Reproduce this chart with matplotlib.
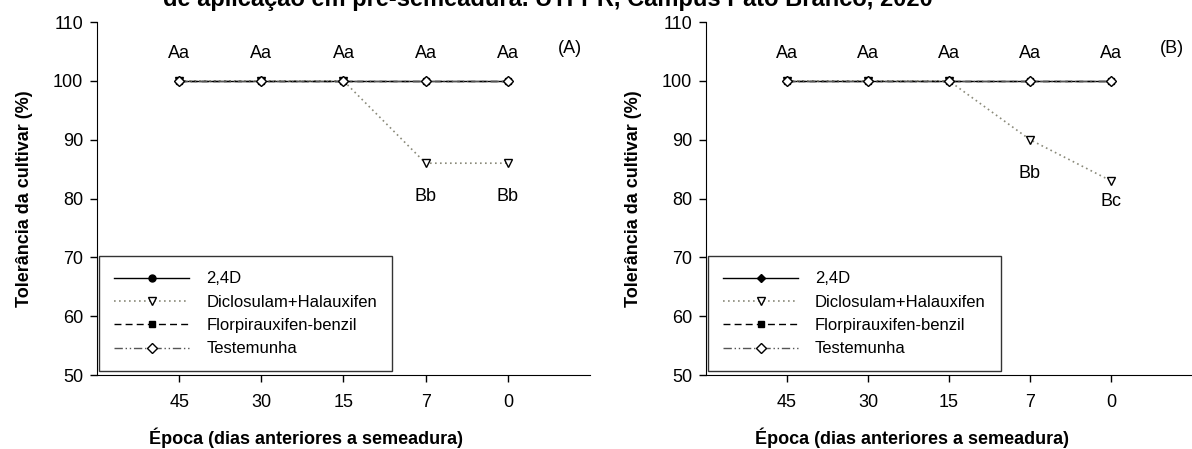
import matplotlib
matplotlib.use("Agg")
import matplotlib.pyplot as plt

plt.rcParams['font.family'] = ['Liberation Sans', 'DejaVu Sans']

# data
epocas = ['45', '30', '15', '7', '0']
series = ['2,4D', 'Diclosulam+Halauxifen', 'Florpirauxifen-benzil', 'Testemunha']
vals_A = {
    '2,4D': [100, 100, 100, 100, 100],
    'Diclosulam+Halauxifen': [100, 100, 100, 86, 86],
    'Florpirauxifen-benzil': [100, 100, 100, 100, 100],
    'Testemunha': [100, 100, 100, 100, 100],
}
vals_B = {
    '2,4D': [100, 100, 100, 100, 100],
    'Diclosulam+Halauxifen': [100, 100, 100, 90, 83],
    'Florpirauxifen-benzil': [100, 100, 100, 100, 100],
    'Testemunha': [100, 100, 100, 100, 100],
}
letras_top = ['Aa', 'Aa', 'Aa', 'Aa', 'Aa']
letras_A = ['', '', '', 'Bb', 'Bb']
letras_B = ['', '', '', 'Bb', 'Bc']

styles = {
    '2,4D': dict(color='black', ls='-', marker='o', mfc='black', ms=5, lw=1.0),
    'Diclosulam+Halauxifen': dict(color='#8a8a7a', ls=(0, (1, 2)), marker='v', mfc='white',
                                  mec='black', ms=6, lw=1.2),
    'Florpirauxifen-benzil': dict(color='black', ls=(0, (5, 3)), marker='s', mfc='black', ms=5, lw=1.0),
    'Testemunha': dict(color='#555555', ls=(0, (6, 2, 1, 2, 1, 2)), marker='D', mfc='white',
                       mec='black', ms=5, lw=1.0),
}

fig = plt.figure(figsize=(11.92, 4.49), dpi=100)
W, H = 1192, 449
ax1 = fig.add_axes([97 / W, 1 - 375 / H, 493 / W, 353 / H])
ax2 = fig.add_axes([706 / W, 1 - 375 / H, 486 / W, 353 / H])

# title is cut at the top edge, as in the source figure
fig.text(548 / W, 1 - 6 / H, 'de aplicação em pré-semeadura. UTFPR, Campus Pato Branco, 2020',
         ha='center', va='baseline', fontsize=17, fontweight='bold')

x = list(range(1, len(epocas) + 1))

for ax, vals, low, tag in [(ax1, vals_A, letras_A, '(A)'), (ax2, vals_B, letras_B, '(B)')]:
    for s in series:
        st = dict(styles[s])
        if ax is ax2 and s == '2,4D':
            st.update(marker='D', ms=4)  # panel B uses a small diamond
        ax.plot(x, vals[s], label=s, zorder=3, **st)
    dic = vals['Diclosulam+Halauxifen']
    for i, t in enumerate(letras_top):
        ax.text(x[i], 104.6, t, ha='center', va='center', fontsize=13)
    for i, t in enumerate(low):
        if t:
            off = 3.5 if t == 'Bc' else 5.7
            ax.text(x[i], dic[i] - off, t, ha='center', va='center', fontsize=13)
    ax.text(5.75, 105.5, tag, ha='center', va='center', fontsize=13)

    ax.set_xlim(0, 6)
    ax.set_ylim(50, 110)
    ax.set_xticks(x)
    ax.set_xticklabels(epocas)
    ax.set_yticks(range(50, 111, 10))
    ax.tick_params(direction='out', length=5, width=1, labelsize=13, pad=9)
    ax.tick_params(axis='y', pad=5)
    for sp in ['top', 'right']:
        ax.spines[sp].set_visible(False)
    ax.set_ylabel('Tolerância da cultivar (%)', fontsize=13, fontweight='bold', labelpad=14)
    ax.set_xlabel('Época (dias anteriores a semeadura)', fontsize=13, fontweight='bold')
    ax.xaxis.set_label_coords(0.423, -0.15)

    leg = ax.legend(loc='lower left', bbox_to_anchor=(0.005, 0.01), fontsize=12, frameon=True,
                    fancybox=False, edgecolor='black', handlelength=4.5, borderpad=0.9,
                    labelspacing=0.5, handletextpad=1.0, borderaxespad=0)
    leg.get_frame().set_linewidth(1.0)

fig.savefig('out.png', dpi=100)
